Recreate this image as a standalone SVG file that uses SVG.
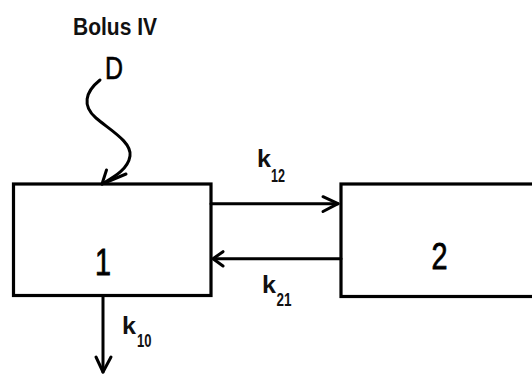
<svg xmlns="http://www.w3.org/2000/svg" width="532" height="374" viewBox="0 0 532 374">
<style>
.box{fill:#fff;stroke:#000;stroke-width:3.2}
.ln{fill:none;stroke:#000;stroke-width:3;stroke-linecap:round;stroke-linejoin:round}
.num{font-family:"Liberation Sans",Arial,sans-serif;font-size:36px;fill:#000;stroke:#000;stroke-width:0.8}
.k{font-family:"Liberation Sans",Arial,sans-serif;font-weight:bold;font-size:24px;fill:#111}
.sub{font-family:"Liberation Sans",Arial,sans-serif;font-weight:bold;font-size:18px;fill:#111}
.title{font-family:"Liberation Sans",Arial,sans-serif;font-weight:bold;font-size:23px;fill:#111}
</style>
<rect width="532" height="374" fill="#fff"/>
<g id="node-1">
<rect class="box" x="13.5" y="184" width="197.5" height="111.5"/>
<text class="num" x="103" y="275" text-anchor="middle" textLength="16" lengthAdjust="spacingAndGlyphs">1</text>
</g>
<g id="node-2">
<rect class="box" x="341" y="184" width="200" height="112.5"/>
<text class="num" x="439.5" y="269" text-anchor="middle" textLength="16" lengthAdjust="spacingAndGlyphs">2</text>
</g>
<g id="dose">
<text class="title" x="73" y="35" textLength="84" lengthAdjust="spacingAndGlyphs">Bolus IV</text>
<text x="105" y="79" font-family="'Liberation Sans',Arial,sans-serif" font-size="31" fill="#000" stroke="#000" stroke-width="0.6" textLength="18" lengthAdjust="spacingAndGlyphs">D</text>
</g>
<g id="connectors">
<path class="ln" d="M100,80 C85,92 82,106 96,118 C110,130 132,142 130,156 C128,170 112,178 102,184"/>
<path class="ln" d="M106.5,170 L102,184 L126,174"/>
<path class="ln" d="M211,203.7 H338"/>
<path class="ln" d="M323,196.7 L338,203.7 L323,211.5"/>
<path class="ln" d="M341,258.7 H214"/>
<path class="ln" d="M223,251.7 L213,258.7 L223,266"/>
<path class="ln" d="M103,296 V372"/>
<path class="ln" d="M96,357 L103,372 L111,357"/>
</g>
<g id="labels">
<text class="k" x="257" y="167" textLength="14" lengthAdjust="spacingAndGlyphs">k</text>
<text class="sub" x="271" y="182" textLength="14" lengthAdjust="spacingAndGlyphs">12</text>
<text class="k" x="262" y="293" textLength="14" lengthAdjust="spacingAndGlyphs">k</text>
<text class="sub" x="276.5" y="305.5" textLength="15" lengthAdjust="spacingAndGlyphs">21</text>
<text class="k" x="122" y="334" textLength="14" lengthAdjust="spacingAndGlyphs">k</text>
<text class="sub" x="137" y="346.5" textLength="14.5" lengthAdjust="spacingAndGlyphs">10</text>
</g>
</svg>
